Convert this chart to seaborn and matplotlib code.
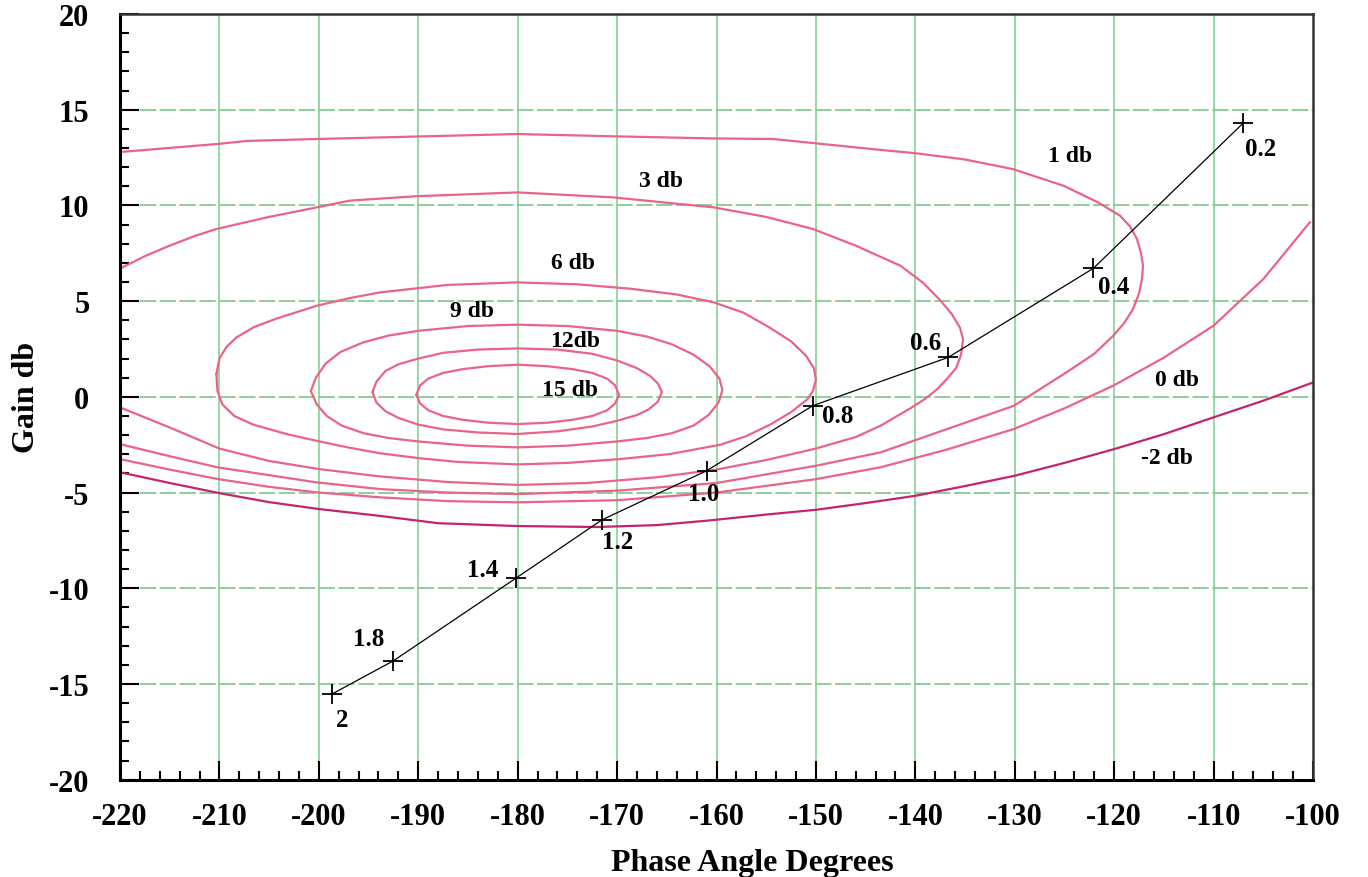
import numpy as np
import pandas as pd
import matplotlib
matplotlib.use("Agg")
import matplotlib.pyplot as plt
import seaborn as sns

# closed-loop magnitude contours (phase in deg, gain in db)
m15_phase = [-190.2, -189.8, -189.0, -187.5, -185.5, -183.0, -180.0, -177.0, -174.5, -172.5, -171.0, -170.2, -169.8,
             -170.2, -171.0, -172.5, -174.5, -177.0, -180.0, -183.0, -185.5, -187.5, -189.0, -189.8, -190.2]
m15_gain = [0.1, 0.6, 0.95, 1.25, 1.45, 1.6, 1.68, 1.6, 1.45, 1.25, 0.95, 0.6, 0.1,
            -0.35, -0.7, -1.0, -1.2, -1.35, -1.42, -1.35, -1.2, -1.0, -0.7, -0.35, 0.1]

m12_phase = [-194.6, -194.2, -193.3, -192.0, -190.0, -187.5, -184.0, -180.0, -176.0, -172.5, -170.0, -168.0, -166.7, -165.9, -165.5,
             -165.9, -166.8, -168.0, -170.0, -172.5, -176.0, -180.0, -184.0, -187.5, -190.0, -192.0, -193.3, -194.2, -194.6]
m12_gain = [0.25, 0.8, 1.35, 1.7, 2.0, 2.3, 2.47, 2.53, 2.47, 2.25, 1.9, 1.5, 1.1, 0.7, 0.25,
            -0.25, -0.65, -0.95, -1.25, -1.55, -1.8, -1.94, -1.86, -1.7, -1.45, -1.1, -0.75, -0.3, 0.25]

m9_phase = [-200.8, -200.3, -199.3, -197.8, -195.5, -193.0, -190.0, -185.0, -180.0, -175.0, -170.0, -167.0, -164.5, -162.3, -160.7, -159.7, -159.4,
            -159.8, -160.8, -162.3, -164.5, -167.0, -170.0, -175.0, -180.0, -185.0, -190.0, -193.0, -195.5, -197.7, -199.2, -200.2, -200.8]
m9_gain = [0.3, 1.0, 1.75, 2.35, 2.85, 3.2, 3.45, 3.7, 3.77, 3.7, 3.45, 3.15, 2.75, 2.2, 1.6, 0.95, 0.35,
           -0.3, -0.95, -1.5, -1.9, -2.15, -2.33, -2.55, -2.64, -2.55, -2.33, -2.15, -1.9, -1.5, -1.0, -0.4, 0.3]

m6_phase = [-210.3, -210.0, -209.3, -208.3, -206.5, -204.2, -200.2, -197.0, -193.8, -187.0, -180.0, -174.0, -168.7, -164.0,
            -160.3, -157.3, -154.6, -152.5, -151.0, -150.2, -150.0, -150.3, -150.9, -152.5, -154.6, -157.0, -159.6, -164.7,
            -169.7, -175.0, -180.0, -186.0, -190.0, -193.8, -197.0, -200.2, -203.2, -206.6, -208.5, -209.7, -210.2, -210.3]
m6_gain = [1.2, 2.0, 2.6, 3.1, 3.65, 4.1, 4.76, 5.15, 5.46, 5.85, 5.98, 5.88, 5.65, 5.35,
           4.94, 4.4, 3.6, 2.9, 2.15, 1.5, 0.9, 0.3, -0.15, -0.8, -1.45, -2.05, -2.5, -2.99,
           -3.25, -3.45, -3.53, -3.4, -3.2, -2.95, -2.65, -2.3, -1.95, -1.45, -1.0, -0.4, 0.3, 1.2]

m3_phase = [-220.0, -217.5, -215.0, -212.5, -210.3, -205.0, -200.2, -196.9, -190.2, -180.0, -170.4, -160.3, -155.0, -150.3,
            -146.0, -141.5, -139.2, -137.5, -136.3, -135.5, -135.2, -135.4, -135.9, -136.8, -137.8, -139.0, -140.5, -142.0,
            -143.5, -146.0, -150.0, -155.0, -160.0, -166.0, -173.0, -180.0, -187.0, -194.0, -200.0, -205.0, -210.0, -215.0, -220.0]
m3_gain = [6.7, 7.35, 7.9, 8.4, 8.77, 9.4, 9.9, 10.25, 10.48, 10.68, 10.42, 9.9, 9.4, 8.77,
           7.9, 6.85, 5.95, 5.05, 4.3, 3.6, 3.0, 2.2, 1.5, 0.95, 0.4, -0.1, -0.6, -1.05,
           -1.51, -2.1, -2.7, -3.3, -3.8, -4.2, -4.5, -4.6, -4.45, -4.15, -3.77, -3.35, -2.7, -1.6, -0.55]

m1_phase = [-220.0, -210.2, -207.2, -200.2, -190.1, -180.0, -170.4, -160.3, -154.3, -150.3, -143.5, -140.2, -135.0, -130.2,
            -125.1, -121.7, -119.4, -118.4, -117.7, -117.3, -117.1, -117.2, -117.5, -118.1, -119.0, -120.1, -122.0, -124.8,
            -130.1, -136.8, -143.5, -150.0, -160.0, -170.0, -180.0, -187.0, -193.8, -200.2, -210.2, -215.0, -220.0]
m1_gain = [12.79, 13.21, 13.37, 13.47, 13.6, 13.73, 13.61, 13.5, 13.47, 13.26, 12.9, 12.74, 12.4, 11.9,
           11.03, 10.18, 9.46, 8.9, 8.24, 7.5, 6.85, 6.15, 5.4, 4.59, 3.85, 3.19, 2.25, 1.28,
           -0.47, -1.68, -2.9, -3.6, -4.5, -4.9, -5.08, -5.0, -4.82, -4.47, -3.68, -3.1, -2.47]

m0_phase = [-220.0, -215.0, -210.2, -205.0, -200.2, -193.8, -187.0, -180.0, -170.0, -160.0, -150.0, -143.5, -136.8,
            -130.1, -125.0, -120.1, -115.0, -110.0, -105.0, -100.3]
m0_gain = [-3.25, -3.8, -4.29, -4.7, -4.99, -5.25, -5.45, -5.51, -5.4, -5.0, -4.3, -3.68, -2.75,
           -1.68, -0.6, 0.58, 2.05, 3.72, 6.15, 9.13]

mneg2_phase = [-220.0, -215.0, -210.0, -205.0, -200.0, -194.0, -188.0, -180.0, -172.0, -166.0, -161.0, -155.0, -150.0,
               -145.0, -140.0, -135.0, -130.0, -125.0, -120.0, -115.0, -110.0, -105.0, -100.0]
mneg2_gain = [-3.94, -4.5, -5.03, -5.5, -5.86, -6.21, -6.6, -6.75, -6.8, -6.7, -6.47, -6.15, -5.9,
              -5.55, -5.17, -4.66, -4.12, -3.45, -2.73, -1.95, -1.07, -0.2, 0.75]

contour_names = ['15 db', '12db', '9 db', '6 db', '3 db', '1 db', '0 db', '-2 db']

# open-loop frequency response (Nichols plot)
freq_labels = ['0.2', '0.4', '0.6', '0.8', '1.0', '1.2', '1.4', '1.8', '2']
traj_phase = [-107.0, -122.1, -136.7, -150.3, -161.0, -171.5, -180.2, -192.5, -198.7]
traj_gain = [14.31, 6.71, 2.06, -0.46, -3.86, -6.42, -9.48, -13.79, -15.53]

sns.set_theme(style='white')
plt.rcParams['font.family'] = ['Liberation Serif', 'DejaVu Serif']
plt.rcParams['axes.unicode_minus'] = False
plt.rcParams['text.color'] = 'black'
plt.rcParams['axes.labelcolor'] = 'black'
plt.rcParams['xtick.color'] = 'black'
plt.rcParams['ytick.color'] = 'black'

fig = plt.figure(figsize=(13.68, 8.78), dpi=100)
ax = fig.add_axes([120/1368, 1-780.7/878, 1193/1368, 765.7/878])

# grid
for x in range(-210, -100, 10):
    ax.axvline(x, color='#8fd4a0', lw=1.3, zorder=0)
for y in range(-15, 20, 5):
    ax.axhline(y, color='#86c996', lw=1.3, ls=(0, (9, 2)), zorder=0)

pink = '#ea6389'
contours = [
    (m15_phase, m15_gain, pink),
    (m12_phase, m12_gain, pink),
    (m9_phase, m9_gain, pink),
    (m6_phase, m6_gain, pink),
    (m3_phase, m3_gain, pink),
    (m1_phase, m1_gain, pink),
    (m0_phase, m0_gain, pink),
    (mneg2_phase, mneg2_gain, '#c4246e'),
]
for name, (ph, gn, col) in zip(contour_names, contours):
    df = pd.DataFrame({'phase': ph, 'gain': gn})
    sns.lineplot(data=df, x='phase', y='gain', sort=False, estimator=None,
                 color=col, lw=1.6, ax=ax)

traj = pd.DataFrame({'phase': traj_phase, 'gain': traj_gain})
sns.lineplot(data=traj, x='phase', y='gain', sort=False, estimator=None,
             color='black', lw=0.9, marker='+', markersize=15,
             markeredgewidth=1.3, markeredgecolor='black', ax=ax)

# frequency labels
label_offsets = [(17, -26), (20, -18), (-23, 15), (25, -10), (-3, -23),
                 (15, -22), (-33, 9), (-25, 22), (10, -25)]
for lab, ph, gn, off in zip(freq_labels, traj_phase, traj_gain, label_offsets):
    ax.annotate(lab, (ph, gn), xytext=off, textcoords='offset pixels',
                ha='center', va='center', fontsize=18, fontweight='bold')

# contour labels
contour_label_pos = [(-174.7, 0.41), (-174.2, 2.93), (-184.6, 4.5), (-174.4, 7.03),
                     (-165.6, 11.3), (-124.4, 12.6), (-113.7, 0.93), (-114.7, -3.16)]
for name, (px, py) in zip(contour_names, contour_label_pos):
    ax.text(px, py, name, ha='center', va='center', fontsize=17, fontweight='bold')

ax.set_xlim(-220, -100)
ax.set_ylim(-20, 20)
ax.set_xticks(range(-220, -99, 10))
ax.set_yticks(range(-20, 21, 5))
ax.set_xticks(range(-220, -99, 2), minor=True)
ax.set_yticks(range(-20, 21, 1), minor=True)
ax.tick_params(which='major', direction='in', length=14, width=1.5, color='black',
               labelsize=22, pad=16, bottom=True, left=True, top=False, right=False)
ax.tick_params(which='minor', direction='in', length=6.5, width=1.5, color='black',
               bottom=True, left=True, top=False, right=False)
ax.tick_params(axis='y', which='major', pad=22)
for lbl in ax.get_xticklabels() + ax.get_yticklabels():
    lbl.set_fontweight('bold')

for side in ['left', 'bottom']:
    ax.spines[side].set_color('black')
    ax.spines[side].set_linewidth(2.2)
for side in ['top', 'right']:
    ax.spines[side].set_color('#333333')
    ax.spines[side].set_linewidth(1.8)

ax.set_xlabel('Phase Angle Degrees', fontsize=23, fontweight='bold')
ax.set_ylabel('Gain db', fontsize=23, fontweight='bold')
ax.xaxis.set_label_coords((752-120)/1193, -0.089)
ax.yaxis.set_label_coords(-0.066, 0.5)

fig.savefig('out.png', dpi=100, facecolor='white')
